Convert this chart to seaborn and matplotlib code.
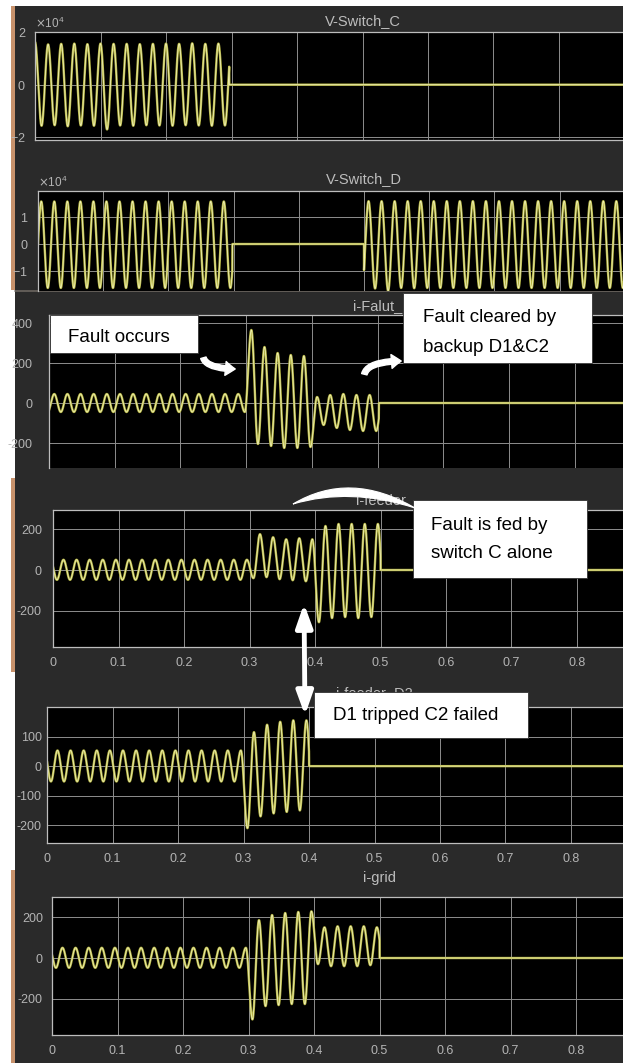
import numpy as np
import matplotlib
matplotlib.use('Agg')
import matplotlib.pyplot as plt
from matplotlib.patches import Rectangle, FancyArrowPatch, PathPatch
from matplotlib.path import Path
from matplotlib.ticker import ScalarFormatter
import seaborn as sns

sns.set_theme(style='dark')
plt.rcParams['font.family'] = ['Liberation Sans', 'DejaVu Sans']
plt.rcParams['axes.unicode_minus'] = False

# ---- data: per-cycle upper / lower peaks (50 Hz) ----
# V-Switch_C : switch C opens at 0.3 s
vc_peak_t0, vc_trough_t0 = 0.000, 0.010
vc_hi = [16200, 15300, 15500, 15600, 15400, 15600, 15500, 15500, 15400, 15500,
         15600, 15500, 15700, 15500, 15600, 15500]
vc_lo = [-15600, -15400, -15800, -15500, -15600, -17000, -15500, -15600, -15400,
         -15500, -15600, -15400, -15500, -15600, -15500]
vc_on = (0.0, 0.2965)

# V-Switch_D : open from 0.3 s to 0.5 s, reclosed afterwards
vd_peak_t0, vd_trough_t0 = 0.005, 0.015
vd_hi = [15500] * 15
vd_lo = [-16000] * 15
vd_on = (0.0, 0.298)
vd2_peak_t0, vd2_trough_t0 = 0.507, 0.497
vd2_hi = [15600] * 25
vd2_lo = [-16000, -16200, -17000, -16000, -16100] + [-16000] * 21
vd2_on = (0.5, 1.0)

# i-Falut : fault at 0.3 s, D1 trips at 0.4 s, cleared at 0.5 s
if_peak_t0, if_trough_t0 = 0.008, 0.018
if_hi = [45] * 15 + [365, 280, 250, 240, 235] + [30, 40, 45, 40, 40]
if_lo = [-45] * 15 + [-205, -215, -225, -225, -220] + [-110, -125, -135, -140, -140]
if_on = (0.0, 0.502)

# i-feeder
ife_peak_t0, ife_trough_t0 = 0.016, 0.006
ife_hi = [50] * 15 + [175, 160, 150, 155, 150] + [215, 225, 225, 225, 225]
ife_lo = [-48] * 15 + [-40, -35, -45, -50, -55] + [-255, -235, -230, -235, -230]
ife_on = (0.0, 0.5)

# i-..._D2 : D1 tripped, C2 failed
id2_peak_t0, id2_trough_t0 = 0.016, 0.006
id2_hi = [53] * 15 + [115, 140, 150, 155, 155]
id2_lo = [-52] * 15 + [-210, -170, -160, -155, -150]
id2_on = (0.0, 0.4)

# i-grid
ig_peak_t0, ig_trough_t0 = 0.016, 0.006
ig_hi = [50] * 15 + [185, 210, 220, 225, 228] + [150, 155, 155, 155, 150]
ig_lo = [-48] * 15 + [-300, -235, -230, -225, -225] + [-30, -40, -40, -40, -35]
ig_on = (0.0, 0.5)

xticks = [0, 0.1, 0.2, 0.3, 0.4, 0.5, 0.6, 0.7, 0.8, 0.9, 1.0]
# the screenshots are cropped just after 0.8
xtick_labels = ['0', '0.1', '0.2', '0.3', '0.4', '0.5', '0.6', '0.7', '0.8', '', '']


def waveform(t, peak_t0, trough_t0, hi, lo, on):
    times = np.r_[peak_t0 + 0.02 * np.arange(len(hi)), trough_t0 + 0.02 * np.arange(len(lo))]
    vals = np.r_[hi, lo].astype(float)
    order = np.argsort(times)
    times, vals = times[order], vals[order]
    times = np.r_[times[0] - 0.01, times, times[-1] + 0.01]
    vals = np.r_[vals[1], vals, vals[-2]]
    i = np.clip(np.searchsorted(times, t) - 1, 0, len(times) - 2)
    a, b = vals[i], vals[i + 1]
    ph = np.clip((t - times[i]) / (times[i + 1] - times[i]), 0, 1)
    y = (a + b) / 2 + (a - b) / 2 * np.cos(np.pi * ph)
    y[(t < on[0]) | (t > on[1])] = 0
    return y


t = np.linspace(0, 1, 20001)
traces = {
    'V-Switch_C': waveform(t, vc_peak_t0, vc_trough_t0, vc_hi, vc_lo, vc_on),
    'V-Switch_D': waveform(t, vd_peak_t0, vd_trough_t0, vd_hi, vd_lo, vd_on)
                  + waveform(t, vd2_peak_t0, vd2_trough_t0, vd2_hi, vd2_lo, vd2_on),
    'i-Falut_': waveform(t, if_peak_t0, if_trough_t0, if_hi, if_lo, if_on),
    'i-feeder': waveform(t, ife_peak_t0, ife_trough_t0, ife_hi, ife_lo, ife_on),
    'i-feeder_D2': waveform(t, id2_peak_t0, id2_trough_t0, id2_hi, id2_lo, id2_on),
    'i-grid': waveform(t, ig_peak_t0, ig_trough_t0, ig_hi, ig_lo, ig_on),
}

# ---- layout, in pixels of the 623x1063 picture ----
W, H = 623, 1063
BG = '#2a2a2a'
GRID = '#8e8e8e'
TXT = '#b4b4b4'

# name: (left, top, right, bottom), ylim, yticks, ylabel pad, title pad, x labels
panels = [
    ('V-Switch_C', (35, 32, 690, 140), (-2.1e4, 2.0e4), [-2e4, 0, 2e4], 6.5, 5.0, False),
    ('V-Switch_D', (38, 191, 690, 291), (-1.71e4, 1.93e4), [-1e4, 0, 1e4], 7.2, 5.8, False),
    ('i-Falut_', (49, 315, 706, 468), (-325, 440), [-200, 0, 200, 400], 12, 3.6, False),
    ('i-feeder', (53, 510, 708, 647), (-376, 293), [-200, 0, 200], 8, 3.6, True),
    ('i-feeder_D2', (47, 707, 702, 843), (-260, 200), [-200, -100, 0, 100], 3.6, 7.2, True),
    ('i-grid', (52, 897, 707, 1035), (-376, 298), [-200, 0, 200], 6.5, 10.8, True),
]


def fx(x):
    return x / W


def fy(y):
    return 1 - y / H


fig = plt.figure(figsize=(W / 100, H / 100), dpi=100, facecolor='white')
fig.add_artist(Rectangle((fx(15), 0), fx(W - 15), fy(6), transform=fig.transFigure,
                         facecolor=BG, edgecolor='none', zorder=-5))
for y0, y1 in [(6, 290), (478, 672), (870, 1063)]:
    fig.add_artist(Rectangle((fx(11), fy(y1)), fx(4), (y1 - y0) / H, transform=fig.transFigure,
                             facecolor='#c8926c', edgecolor='none', zorder=-5))
fig.add_artist(plt.Line2D([fx(15), 1], [fy(291), fy(291)], transform=fig.transFigure,
                          color='#6b6660', lw=1.2, zorder=-4))

for i, (name, (l, tp, r, b), ylim, yt, ypad, tpad, xlab) in enumerate(panels):
    ax = fig.add_axes([fx(l), fy(b), fx(r - l), (b - tp) / H])
    ax.set_facecolor('black')
    # olive trace with a light core, like the compressed scope capture
    sns.lineplot(x=t, y=traces[name], ax=ax, color='#b4b443', linewidth=1.7, estimator=None)
    sns.lineplot(x=t, y=traces[name], ax=ax, color='#f0f0b4', linewidth=0.6, estimator=None)
    ax.set_xlim(0, 1)
    ax.set_ylim(*ylim)
    ax.set_xticks(xticks)
    ax.set_yticks(yt)
    ax.grid(True, color=GRID, linewidth=0.7)
    ax.set_axisbelow(True)
    for s in ax.spines.values():
        s.set_color('#bdbdbd')
        s.set_linewidth(0.9)
    if i in (1, 2):
        ax.spines['bottom'].set_visible(False)
    ax.tick_params(length=0, labelsize=9, colors=TXT)
    ax.tick_params(axis='y', pad=ypad)
    ax.tick_params(axis='x', pad=7)
    if i < 2:
        fmt = ScalarFormatter(useMathText=True)
        fmt.set_powerlimits((0, 0))
        ax.yaxis.set_major_formatter(fmt)
        ax.yaxis.get_offset_text().set_color(TXT)
        ax.yaxis.get_offset_text().set_fontsize(8.5)
    if xlab:
        ax.set_xticklabels(xtick_labels)
    else:
        ax.set_xticklabels([])
    ax.set_title(name, color='#bdbdbd', fontsize=10.5, pad=tpad)

# ---- annotations drawn over the scope screenshots ----
boxes = [
    ((50, 315, 198, 353), ['Fault occurs'], 68, [337]),
    ((403, 293, 592, 363), ['Fault cleared by', 'backup D1&C2'], 423, [318, 348]),
    ((413, 500, 587, 578), ['Fault is fed by', 'switch C alone'], 431, [525, 553]),
    ((314, 692, 528, 738), ['D1 tripped C2 failed'], 333, [715]),
]
for (x0, y0, x1, y1), lines, tx, tys in boxes:
    fig.add_artist(Rectangle((fx(x0), fy(y1)), fx(x1 - x0), (y1 - y0) / H, transform=fig.transFigure,
                             facecolor='white', edgecolor='#333333', linewidth=0.6, zorder=5))
    for line, ty in zip(lines, tys):
        fig.text(fx(tx), fy(ty), line, fontsize=13.5, color='black', va='center', ha='left', zorder=6)

arrow_kw = dict(transform=fig.transFigure, color='white', zorder=7)
fig.add_artist(FancyArrowPatch((fx(203), fy(355)), (fx(238), fy(369)),
                               connectionstyle='angle3,angleA=-90,angleB=0',
                               arrowstyle='simple,head_length=0.7,head_width=1.0,tail_width=0.4',
                               mutation_scale=10, **arrow_kw))
fig.add_artist(FancyArrowPatch((fx(364), fy(377)), (fx(404), fy(361)),
                               connectionstyle='angle3,angleA=90,angleB=0',
                               arrowstyle='simple,head_length=0.7,head_width=1.0,tail_width=0.4',
                               mutation_scale=10, **arrow_kw))
fig.add_artist(FancyArrowPatch((fx(304), fy(601)), (fx(305), fy(718)),
                               arrowstyle='<|-|>,head_length=14,head_width=5',
                               mutation_scale=1, linewidth=3.5, **arrow_kw))
crescent = Path([(fx(293), fy(504)), (fx(350), fy(470)), (fx(415), fy(508)),
                 (fx(350), fy(487)), (fx(293), fy(504)), (fx(293), fy(504))],
                [Path.MOVETO, Path.CURVE3, Path.CURVE3, Path.CURVE3, Path.CURVE3, Path.CLOSEPOLY])
fig.add_artist(PathPatch(crescent, transform=fig.transFigure, facecolor='white',
                         edgecolor='white', linewidth=0.8, zorder=7))

fig.savefig('out.png', dpi=100, facecolor='white')
